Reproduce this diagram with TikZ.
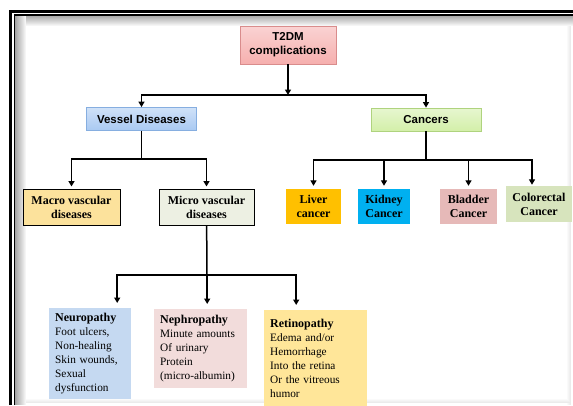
\documentclass[tikz,border=0pt]{standalone}
\usepackage{fontspec}
\setmainfont{Liberation Serif}
\setsansfont{Liberation Sans}
\usepackage{xcolor}
\usetikzlibrary{arrows.meta}
\definecolor{tdred}{HTML}{F6AFAE}
\definecolor{tdredline}{HTML}{D98C8C}
\definecolor{tdblue}{HTML}{A9C9F2}
\definecolor{tdblueline}{HTML}{86AEE0}
\definecolor{tdgreen}{HTML}{D3EFA9}
\definecolor{tdgreenline}{HTML}{AFD37E}
\definecolor{tdmacro}{HTML}{FCE29C}
\definecolor{tdmicro}{HTML}{EDF0E3}
\definecolor{tdliver}{HTML}{FFC000}
\definecolor{tdkidney}{HTML}{00B0F0}
\definecolor{tdbladder}{HTML}{E6B9B8}
\definecolor{tdcolon}{HTML}{D7E4BD}
\definecolor{tdneuro}{HTML}{C5D9F1}
\definecolor{tdnephro}{HTML}{F2DCDB}
\definecolor{tdretino}{HTML}{FFE699}

\begin{document}
\begin{tikzpicture}[x=1pt, y=-1pt,
  headbox/.style={draw=#1line, line width=0.8pt, top color=#1!55, bottom color=#1,
    font=\sffamily\bfseries\fontsize{11.5}{14}\selectfont, align=center, inner sep=0pt},
  catbox/.style={font=\bfseries\fontsize{12}{14}\selectfont, align=center, inner sep=0pt},
  notebox/.style={font=\fontsize{11.3}{14}\selectfont, align=left, anchor=north west,
    inner xsep=6pt, inner ysep=4pt},
  arr/.style={-{Triangle[length=5.5pt, width=6pt]}, line width=1.5pt},
  link/.style={line width=1.5pt}
]
  \useasboundingbox (0,0) rectangle (573,405);

  % frame with inner shadow
  \foreach \i [evaluate=\i as \g using 36-3.2*\i] in {0,...,10} {
    \fill[black!\g] (15+\i,15) rectangle (16+\i,405);
    \fill[black!\g] (15+\i,15+\i) rectangle (573,16+\i);
  }
  \foreach \i [evaluate=\i as \g using 2*\i] in {0,...,4} {
    \fill[black!\g] (566+\i,26) rectangle (567+\i,405);
    \fill[black!\g] (26,398+\i) rectangle (566+\i,399+\i);
  }
  \draw[line width=3pt] (10.5,405) -- (10.5,11.5) -- (573,11.5);
  \draw[line width=1.3pt] (14.3,405) -- (14.3,15) -- (573,15);

  \node[headbox=tdred, minimum width=96pt, minimum height=38pt] (t2dm) at (288,45) {T2DM\\complications};

  \node[headbox=tdblue, minimum width=110pt, minimum height=23pt] (vessel) at (141.5,119) {Vessel Diseases};
  \node[headbox=tdgreen, minimum width=110pt, minimum height=23pt] (cancer) at (426,119.5) {Cancers};

  \node[catbox, draw, line width=1pt, fill=tdmacro, minimum width=97pt, minimum height=36pt] (macro) at (71.5,207) {Macro vascular\\diseases};
  \node[catbox, draw, line width=1pt, fill=tdmicro, minimum width=95pt, minimum height=36pt] (micro) at (206.5,207) {Micro vascular\\diseases};

  \node[catbox, fill=tdliver, minimum width=55pt, minimum height=35pt] (liver) at (313.5,206.5) {Liver\\cancer};
  \node[catbox, fill=tdkidney, minimum width=52pt, minimum height=35pt] (kidney) at (384,206.5) {Kidney\\Cancer};
  \node[catbox, fill=tdbladder, minimum width=57pt, minimum height=35pt] (bladder) at (468.5,206.5) {Bladder\\Cancer};
  \node[catbox, fill=tdcolon, minimum width=66pt, minimum height=36pt] (colon) at (539,204) {Colorectal\\Cancer};

  \node[notebox, fill=tdneuro, text width=70pt, minimum height=91pt] (neuro) at (49,308)
    {{\bfseries\fontsize{12}{14}\selectfont Neuropathy}\\Foot ulcers,\\Non-healing\\Skin wounds,\\Sexual\\dysfunction};
  \node[notebox, fill=tdnephro, text width=81pt, minimum height=79pt] (nephro) at (154,309)
    {{\bfseries\fontsize{12}{14}\selectfont Nephropathy}\\Minute amounts\\Of urinary\\Protein\\(micro-albumin)};
  \node[notebox, fill=tdretino, text width=91pt, minimum height=96pt] (retino) at (264,310)
    {{\bfseries\fontsize{12}{14}\selectfont Retinopathy}\\Edema and/or\\Hemorrhage\\Into the retina\\Or the vitreous\\humor};

  % connectors
  \coordinate (jtop) at (288,95);
  \draw[arr, line width=2pt] (t2dm) -- (jtop);
  \foreach \n in {vessel,cancer}
    \draw[arr] (jtop) -| (\n.north);

  \coordinate (jvessel) at (141.5,159);
  \draw[link] (vessel) -- (jvessel);
  \foreach \n in {macro,micro}
    \draw[arr, shorten >=2pt] (jvessel) -| (\n.north);

  \coordinate (jcancer) at (426,160);
  \draw[link] (cancer) -- (jcancer);
  \foreach \n in {liver,kidney,bladder}
    \draw[arr, shorten >=3pt] (jcancer) -| (\n.north);
  \draw[arr, shorten >=1pt] (jcancer) -| ([xshift=-7pt]colon.north);

  \coordinate (jmicro) at (207,275);
  \draw[link] (micro) -- (jmicro);
  \draw[arr, shorten >=5pt] (jmicro) -| ([xshift=27pt]neuro.north);
  \draw[arr, shorten >=5pt] (jmicro) -| ([xshift=6.5pt]nephro.north);
  \draw[arr, shorten >=5pt] (jmicro) -| ([xshift=-19.5pt]retino.north);
\end{tikzpicture}
\end{document}
